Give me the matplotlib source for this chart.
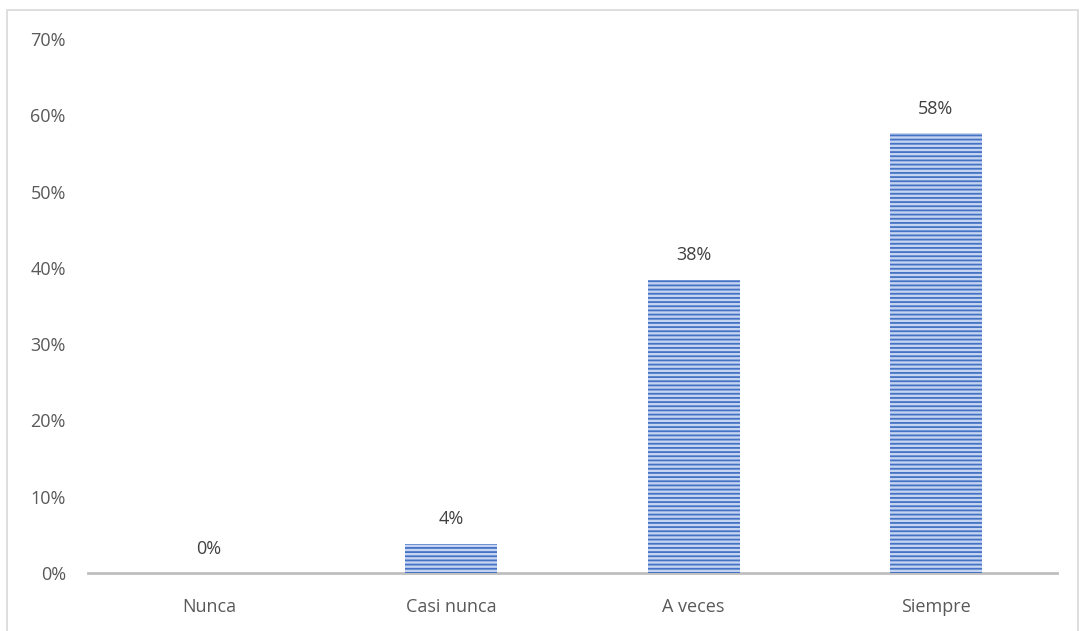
import matplotlib.pyplot as plt
from matplotlib.patches import Rectangle
from matplotlib.ticker import PercentFormatter
import numpy as np

categories = ["Nunca", "Casi nunca", "A veces", "Siempre"]
values = [0.0, 3.85, 38.46, 57.69]
labels = ["0%", "4%", "38%", "58%"]

W, H = 1081, 631
fig = plt.figure(figsize=(W / 100, H / 100), dpi=100)
plt.rcParams['font.family'] = ['Open Sans', 'DejaVu Sans']
plt.rcParams['hatch.color'] = '#4472C4'
plt.rcParams['hatch.linewidth'] = 1.3

# outer chart border (bottom edge falls outside the picture)
fig.patches.append(Rectangle((7 / W, -0.02), (1078 - 7) / W, (H - 10) / H + 0.02,
                             transform=fig.transFigure, fill=False,
                             edgecolor='#d9d9d9', linewidth=1.2))

ax = fig.add_axes([88 / W, (H - 573) / H, (1057 - 88) / W, (573 - 39) / H])
x = np.arange(len(categories))
bars = ax.bar(x, values, width=0.38, color='#c5d4f0', edgecolor='#4472C4',
              linewidth=0, hatch='----')

for xi, v, lab in zip(x, values, labels):
    ax.text(xi, v + 2.0, lab, ha='center', va='bottom', fontsize=13, color='#404040')

ax.set_xlim(-0.5, 3.5)
ax.set_ylim(0, 70)
ax.set_yticks(np.arange(0, 71, 10))
ax.yaxis.set_major_formatter(PercentFormatter(decimals=0))
ax.set_xticks(x)
ax.set_xticklabels(categories)
ax.tick_params(axis='both', length=0, labelsize=13, labelcolor='#595959')
ax.tick_params(axis='y', pad=16)
ax.tick_params(axis='x', pad=18)
for s in ['top', 'right', 'left']:
    ax.spines[s].set_visible(False)
ax.spines['bottom'].set_color('#bfbfbf')
ax.spines['bottom'].set_linewidth(2)
ax.spines['bottom'].set_zorder(0)

fig.savefig('out.png', dpi=100)
